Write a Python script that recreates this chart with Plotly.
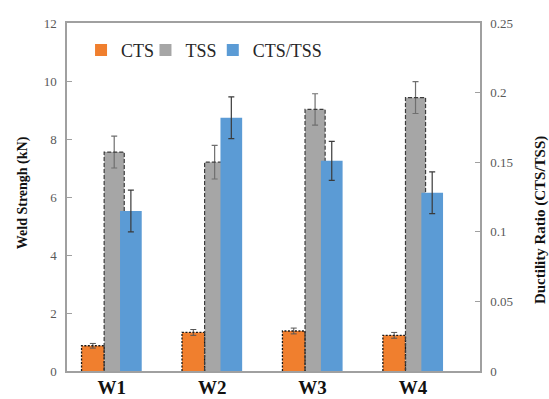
import plotly.graph_objects as go

# Weld strength data per welding condition
categories = ["W1", "W2", "W3", "W4"]
cts = [0.87, 1.33, 1.38, 1.23]          # cross-tension strength (kN)
cts_err = [0.08, 0.10, 0.10, 0.10]
tss = [7.55, 7.20, 9.02, 9.43]          # tensile-shear strength (kN)
tss_err = [0.55, 0.58, 0.54, 0.55]
ratio = [0.115, 0.182, 0.151, 0.128]    # ductility ratio CTS/TSS
ratio_err = [0.015, 0.015, 0.014, 0.015]

idx = list(range(len(categories)))
FONT = "Liberation Serif"

# bar placement within each group (x units = one category)
CTS_OFF, CTS_W = -0.30, 0.225
TSS_OFF, TSS_W = -0.075, 0.20
RAT_OFF, RAT_W = 0.083, 0.216


def outline(values, off, width):
    xs, ys = [], []
    for i, v in zip(idx, values):
        x0, x1 = i + off, i + off + width
        xs += [x0, x0, x1, x1, None]
        ys += [0, v, v, 0, None]
    return xs, ys


fig = go.Figure()

fig.add_trace(go.Bar(
    name="CTS", x=idx, y=cts, offset=CTS_OFF, width=CTS_W,
    marker=dict(color="#F07F2E", line=dict(width=0)),
    error_y=dict(type="data", array=cts_err, color="#555555", thickness=1, width=3),
    yaxis="y", legend="legend",
))
fig.add_trace(go.Bar(
    name="TSS", x=idx, y=tss, offset=TSS_OFF, width=TSS_W,
    marker=dict(color="#A6A6A6", line=dict(width=0)),
    error_y=dict(type="data", array=tss_err, color="#6F6F6F", thickness=1.2, width=3),
    yaxis="y", legend="legend2",
))

# dotted / dashed borders of the left-axis bars
ox, oy = outline(cts, CTS_OFF, CTS_W)
fig.add_trace(go.Scatter(x=ox, y=oy, mode="lines", showlegend=False, hoverinfo="skip",
                         line=dict(color="#1a1a1a", width=1.3, dash="2px,1.5px")))
ox, oy = outline(tss, TSS_OFF, TSS_W)
fig.add_trace(go.Scatter(x=ox, y=oy, mode="lines", showlegend=False, hoverinfo="skip",
                         line=dict(color="#3c3c3c", width=1.2, dash="4px,2px")))

fig.add_trace(go.Bar(
    name="CTS/TSS", x=idx, y=ratio, offset=RAT_OFF, width=RAT_W,
    marker=dict(color="#5B9BD5", line=dict(width=0)),
    error_y=dict(type="data", array=ratio_err, color="#3a3a3a", thickness=1.2, width=3),
    yaxis="y2", legend="legend3",
))

legend_font = dict(family=FONT, size=18, color="#262626")


def legend_box(x):
    return dict(orientation="h", x=x, y=0.975, xanchor="left", yanchor="top",
                font=legend_font, bgcolor="rgba(0,0,0,0)")


axis_line = "#A0A0A0"
fig.update_layout(
    width=549, height=399,
    margin=dict(l=67, r=69, t=23, b=28),
    paper_bgcolor="white", plot_bgcolor="white",
    barmode="overlay",
    showlegend=True,
    legend=legend_box(0.034),
    legend2=legend_box(0.190),
    legend3=legend_box(0.353),
    xaxis=dict(
        range=[-0.445, 3.667], tickvals=idx, ticktext=categories,
        showgrid=False, zeroline=False, showline=True, linecolor=axis_line,
        linewidth=1.5, mirror=True, ticks="", ticklabelstandoff=-2,
        automargin=False,
        tickfont=dict(family=FONT, size=19, color="#111111", weight="bold"),
    ),
    yaxis=dict(
        range=[0, 12], dtick=2, showgrid=False, zeroline=False,
        showline=True, linecolor=axis_line, linewidth=1.5, mirror=True,
        ticks="inside", ticklen=5, tickcolor=axis_line, ticklabelstandoff=6,
        automargin=False,
        tickfont=dict(family=FONT, size=13, color="#595959"),
    ),
    yaxis2=dict(
        range=[0, 0.25], dtick=0.05, overlaying="y", side="right",
        showgrid=False, zeroline=False, showline=True, linecolor=axis_line,
        linewidth=1.5, ticks="inside", ticklen=5, tickcolor=axis_line,
        ticklabelstandoff=6, automargin=False,
        tickfont=dict(family=FONT, size=13, color="#595959"),
    ),
    annotations=[
        dict(text="Weld Strengh (kN)", xref="paper", yref="paper",
             x=-0.1065, y=0.511, textangle=-90, showarrow=False,
             xanchor="center", yanchor="middle",
             font=dict(family=FONT, size=14, color="#111111", weight="bold")),
        dict(text="Ductility Ratio (CTS/TSS)", xref="paper", yref="paper",
             x=1.148, y=0.434, textangle=-90, showarrow=False,
             xanchor="center", yanchor="middle",
             font=dict(family=FONT, size=15, color="#111111", weight="bold")),
    ],
)

fig.write_html("out.html")
